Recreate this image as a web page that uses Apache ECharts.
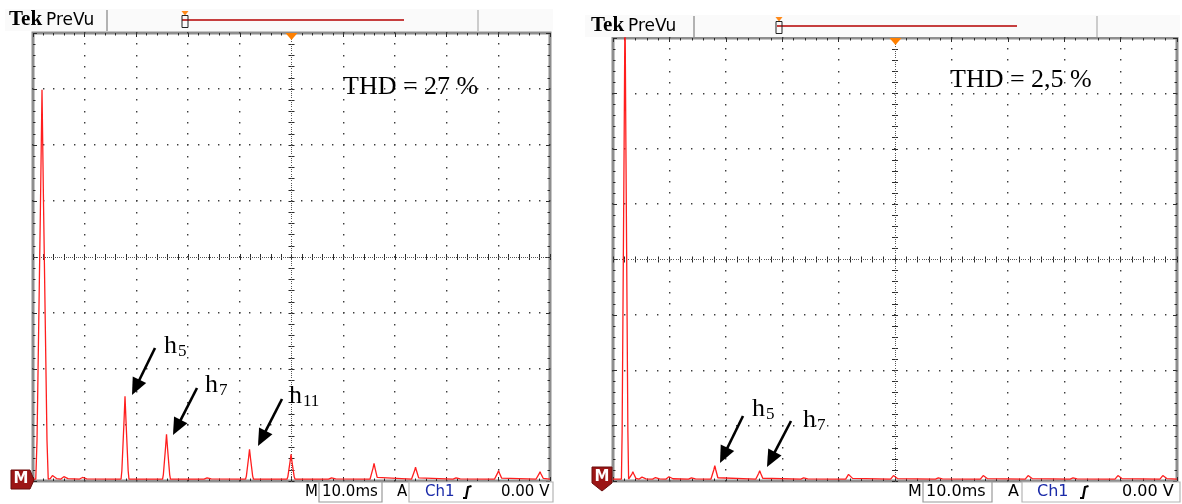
<!DOCTYPE html>
<html><head><meta charset="utf-8">
<script src="https://cdn.jsdelivr.net/npm/echarts@6/dist/echarts.min.js"></script>
<style>html,body{margin:0;padding:0;background:#fff}#c{width:1182px;height:504px}</style>
</head><body><div id="c"></div>
<script>
// ---- data (harmonic order, amplitude in screen divisions) ----
const leftOrders  = [1, 1.55, 2.1, 3, 5, 7, 9, 11, 13, 15, 17, 19, 21, 23, 25];
const leftAmps    = [6.95, 0.09, 0.06, 0.04, 1.48, 0.8, 0.03, 0.53, 0.44, 0.03, 0.28, 0.21, 0.03, 0.15, 0.13];
const rightOrders = [1, 1.35, 1.8, 2.4, 3, 4, 5, 7, 9, 11, 13, 15, 17, 19, 21, 23, 25];
const rightAmps   = [8.6, 0.13, 0.05, 0.04, 0.06, 0.03, 0.24, 0.15, 0.03, 0.12, 0.09, 0.03, 0.09, 0.09, 0.03, 0.09, 0.09];
const noiseFloor  = [0.035, 0.035];
const thdLabels   = ['THD = 27 %', 'THD = 2,5 %'];
const timeBase    = '10.0ms';
const trigLevel   = '0.00 V';
const channel     = 'Ch1';

// peak profile (relative shape of one displayed FFT line)
const profX = [-1, -0.8, -0.25, 0, 0.25, 0.8, 1];
const profY = [0, 0.1, 0.7, 1, 0.7, 0.1, 0];

function buildTrace(orders, amps, floor, xmin, xmax, fundW, w) {
  const pts = [[xmin, floor]];
  orders.forEach((o, i) => {
    const ww = (i === 0 ? fundW : w);
    profX.forEach((px, k) => pts.push([o + px * ww, floor + profY[k] * amps[i]]));
  });
  pts.push([xmax, floor]);
  pts.sort((a, b) => a[0] - b[0]);
  return pts;
}

const grids = [
  {left: 33, top: 33, width: 517, height: 448, show: true, borderColor: '#8e8e8e', borderWidth: 3, backgroundColor: '#fff'},
  {left: 613, top: 38, width: 564, height: 443, show: true, borderColor: '#8e8e8e', borderWidth: 3, backgroundColor: '#fff'}
];
const dataX = [[0.566, 25.48], [0.465, 25.59]];
const traces = [
  buildTrace(leftOrders, leftAmps, noiseFloor[0], dataX[0][0], dataX[0][1], 0.3, 0.19),
  buildTrace(rightOrders, rightAmps, noiseFloor[1], dataX[1][0], dataX[1][1], 0.16, 0.17)
];

// graticule lines: [kind, position]  kind 0 = vertical dotted, 1 = horizontal dotted, 2 = vertical centre, 3 = horizontal centre
const graticule = [[0,1],[0,2],[0,3],[0,4],[0,6],[0,7],[0,8],[0,9],[1,1],[1,2],[1,3],[1,5],[1,6],[1,7],[2,5],[3,4]];

function renderGrat(params, api) {
  const kind = api.value(0), v = api.value(1);
  const vertical = (kind === 0 || kind === 2);
  const dense = kind >= 2;
  const span = vertical ? 8 : 10;
  const steps = dense ? span * 25 : span * 5;
  const s = dense ? 1 : 1.4;
  const kids = [];
  for (let k = 0; k <= steps; k++) {
    const t = k * span / steps;
    const p = vertical ? api.coord([v, t]) : api.coord([t, v]);
    kids.push({type: 'rect', shape: {x: Math.round(p[0] - s / 2), y: Math.round(p[1] - s / 2), width: s, height: s},
      style: {fill: dense ? '#555' : '#3c3c3c'}});
  }
  return {type: 'group', children: kids};
}

const xAxes = [], yAxes = [], series = [];
const tickCol = '#2a2a2a';
grids.forEach((g, gi) => {
  const common = {gridIndex: gi, type: 'value', min: 0, interval: 1,
    axisLabel: {show: false}, splitLine: {show: false},
    axisLine: {show: false, onZero: false}};
  const frameTick = {show: true, inside: true, length: 4, lineStyle: {color: tickCol}};
  const frameMinor = {show: true, splitNumber: 5, length: 2.5, lineStyle: {color: tickCol}};
  const fxi = xAxes.length;
  xAxes.push(Object.assign({}, common, {max: 10, position: 'bottom', axisTick: frameTick, minorTick: frameMinor}));
  xAxes.push(Object.assign({}, common, {max: 10, position: 'top', axisTick: frameTick, minorTick: frameMinor}));
  [true, false].forEach(inside => {
    xAxes.push(Object.assign({}, common, {max: 10, position: 'bottom', offset: -g.height / 2,
      axisTick: {show: true, inside: inside, length: 3, lineStyle: {color: tickCol}},
      minorTick: {show: true, splitNumber: 5, length: 3, lineStyle: {color: tickCol}}}));
  });
  const dxi = xAxes.length;
  xAxes.push({gridIndex: gi, type: 'value', min: dataX[gi][0], max: dataX[gi][1], show: false,
    axisLine: {onZero: false}});

  const dyi = yAxes.length;
  yAxes.push(Object.assign({}, common, {max: 8, position: 'left', axisTick: frameTick, minorTick: frameMinor}));
  yAxes.push(Object.assign({}, common, {max: 8, position: 'right', axisTick: frameTick, minorTick: frameMinor}));
  [true, false].forEach(inside => {
    yAxes.push(Object.assign({}, common, {max: 8, position: 'left', offset: -g.width / 2,
      axisTick: {show: true, inside: inside, length: 3, lineStyle: {color: tickCol}},
      minorTick: {show: true, splitNumber: 5, length: 3, lineStyle: {color: tickCol}}}));
  });

  series.push({type: 'custom', xAxisIndex: fxi, yAxisIndex: dyi, data: graticule, renderItem: renderGrat,
    silent: true, z: 3, clip: false});
  series.push({type: 'line', xAxisIndex: dxi, yAxisIndex: dyi, data: traces[gi],
    showSymbol: false, symbol: 'none', clip: true, z: 10,
    lineStyle: {color: '#ff1e1e', width: 1.3}});
});

// ---- annotation graphics ----
const G = [];
function txt(x, y, s, size, family, opts) {
  G.push({type: 'text', x: x, y: y, z: 50, style: Object.assign({text: s, fontSize: size, fontFamily: family,
    fill: '#000', align: 'left', verticalAlign: 'middle', textAlign: 'left', textVerticalAlign: 'middle'}, opts || {})});
}
function line(x1, y1, x2, y2, col, w) {
  G.push({type: 'line', z: 50, shape: {x1, y1, x2, y2}, style: {stroke: col, lineWidth: w}});
}
function poly(points, fill, stroke, lw) {
  G.push({type: 'polygon', z: 50, shape: {points: points}, style: {fill: fill, stroke: stroke || null, lineWidth: lw || 0}});
}
function arrow(x1, y1, x2, y2) {
  const dx = x2 - x1, dy = y2 - y1, L = Math.hypot(dx, dy), ux = dx / L, uy = dy / L;
  const hl = 17, hw = 7.5;
  const bx = x2 - ux * hl, by = y2 - uy * hl;
  line(x1, y1, bx + ux * 2, by + uy * 2, '#000', 2.6);
  poly([[x2, y2], [bx - uy * hw, by + ux * hw], [bx + uy * hw, by - ux * hw]], '#000');
}
function topBar(o) {
  G.push({type: 'rect', z: 1, shape: {x: o.bx0, y: o.by0, width: o.bx1 - o.bx0, height: o.by1 - o.by0}, style: {fill: '#fafafa'}});
  txt(o.tekX, o.ty, 'Tek', o.tekSize, 'Liberation Serif', {fontWeight: 'bold'});
  txt(o.tekX + 37, o.ty + 0.5, 'PreVu', o.pvSize, 'DejaVu Sans');
  line(o.sep1, o.by0 + 1, o.sep1, o.by1, '#9a9a9a', 1.5);
  line(o.sep2, o.by0 + 1, o.sep2, o.by1, '#bdbdbd', 1.5);
  line(o.rl0, o.rly, o.rl1, o.rly, '#b40000', 1.6);
  poly([[o.trX - 3.5, o.trY], [o.trX + 3.5, o.trY], [o.trX, o.trY + 4.5]], '#ff8a1a');
  G.push({type: 'rect', z: 51, shape: {x: o.trX - 3, y: o.trY + 4.5, width: 6, height: 12}, style: {fill: null, stroke: '#222', lineWidth: 1}});
  poly([[o.cx - 6, o.gTop], [o.cx + 6, o.gTop], [o.cx, o.gTop + 7]], '#ff8000');
}
function bottomBar(o) {
  const s = o.size;
  txt(o.mX, o.y, 'M', s, 'DejaVu Sans');
  G.push({type: 'rect', z: 49, shape: {x: o.b1x0, y: o.by0, width: o.b1x1 - o.b1x0, height: o.by1 - o.by0}, style: {fill: '#fff', stroke: '#9a9a9a', lineWidth: 1.2}});
  txt(o.b1x0 + 3, o.y, timeBase, s, 'DejaVu Sans');
  txt(o.aX, o.y, 'A', s, 'DejaVu Sans');
  G.push({type: 'rect', z: 49, shape: {x: o.b2x0, y: o.by0, width: o.b2x1 - o.b2x0, height: o.by1 - o.by0}, style: {fill: '#fff', stroke: '#b5b5b5', lineWidth: 1.2}});
  txt(o.chX, o.y, channel, s, 'DejaVu Sans', {fill: '#1a2aa8'});
  G.push({type: 'polyline', z: 50, shape: {points: [[o.slX - 1, o.y + 6], [o.slX + 2, o.y + 6], [o.slX + 4, o.y - 5], [o.slX + 7.5, o.y - 6]]}, style: {stroke: '#000', lineWidth: 2.2, fill: null}});
  txt(o.vX, o.y, trigLevel, s, 'DejaVu Sans');
}
function mMarker(x, y, shield) {
  if (shield) {
    poly([[x, y - 11], [x + 20, y - 11], [x + 20, y + 5], [x + 10, y + 13], [x, y + 5]], '#9c1616', '#6a0d0d', 1);
  } else {
    poly([[x, y - 10], [x + 19, y - 10], [x + 23, y], [x + 19, y + 9], [x, y + 9]], '#9c1616', '#6a0d0d', 1);
  }
  txt(x + 10, y - 1, 'M', 15, 'DejaVu Sans', {fill: '#fff', fontWeight: 'bold', align: 'center', textAlign: 'center'});
}

// left panel decorations
topBar({bx0: 5, by0: 9, bx1: 553, by1: 31, tekX: 9, ty: 20, tekSize: 21, pvSize: 17,
  sep1: 107, sep2: 478, rl0: 182, rl1: 404, rly: 20, trX: 185, trY: 11, cx: 291.5, gTop: 33});
bottomBar({size: 15, y: 492, mX: 305, b1x0: 319, b1x1: 382, by0: 482, by1: 502, aX: 397,
  b2x0: 409, b2x1: 553, chX: 425, slX: 464, vX: 501});
mMarker(11, 480, false);
// right panel decorations
topBar({bx0: 585, by0: 15, bx1: 1180, by1: 37, tekX: 591, ty: 26, tekSize: 21, pvSize: 17,
  sep1: 694, sep2: 1097, rl0: 777, rl1: 1017, rly: 26, trX: 779, trY: 17, cx: 895.5, gTop: 38});
bottomBar({size: 16, y: 492, mX: 908, b1x0: 923, b1x1: 992, by0: 482, by1: 502, aX: 1008,
  b2x0: 1022, b2x1: 1180, chX: 1037, slX: 1081, vX: 1122});
mMarker(592, 478, true);

// text annotations
txt(343, 87, thdLabels[0], 26, 'Liberation Serif');
txt(950, 80, thdLabels[1], 26, 'Liberation Serif');
function hLabel(x, y, sub) {
  txt(x, y, 'h', 26, 'Liberation Serif');
  txt(x + 14, y + 6, sub, 17, 'Liberation Serif');
}
hLabel(164, 346, '5');
hLabel(205, 385, '7');
hLabel(289, 396, '11');
hLabel(752, 409, '5');
hLabel(803, 420, '7');
arrow(155, 348, 132, 395);
arrow(197, 388, 173, 435);
arrow(282, 399, 258, 446);
arrow(743, 416, 720, 463);
arrow(791, 421, 767, 467);

const chart = echarts.init(document.getElementById('c'), null, {renderer: 'canvas'});
chart.setOption({
  animation: false,
  backgroundColor: '#fff',
  grid: grids,
  xAxis: xAxes,
  yAxis: yAxes,
  series: series,
  graphic: G
});
</script>
</body></html>
